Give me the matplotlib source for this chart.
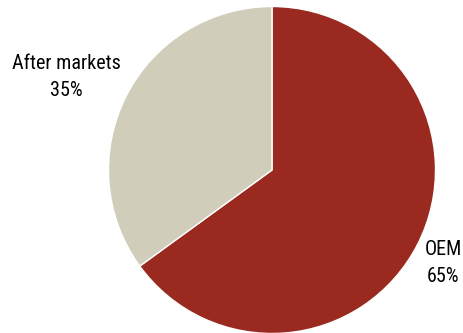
import matplotlib
matplotlib.use("Agg")
import matplotlib.pyplot as plt

categories = ["OEM", "After markets"]
values = [65, 35]
colors = ["#9A2A1F", "#D0CEBB"]

W, H = 464, 333
fig = plt.figure(figsize=(W / 100, H / 100), dpi=100)
cx, cy, r = 272, 170, 163.5
ax = fig.add_axes([(cx - r) / W, (H - cy - r) / H, 2 * r / W, 2 * r / H])
ax.pie(values, colors=colors, startangle=90, counterclock=False,
       wedgeprops=dict(edgecolor="white", linewidth=1.0), radius=1.0)
ax.set_xlim(-1, 1)
ax.set_ylim(-1, 1)
ax.set_aspect("equal")
ax.axis("off")

labels = [f"{c}\n{v}%" for c, v in zip(categories, values)]
pos = {"OEM": ((443, 263)), "After markets": ((66, 77))}
for c, lab in zip(categories, labels):
    px, py = pos[c]
    ax.text((px - cx) / r, (cy - py) / r, lab, ha="center", va="center",
            fontsize=14.5, family=["Roboto Condensed", "DejaVu Sans"],
            linespacing=1.5, color="black")

fig.savefig("out.png", dpi=100)
